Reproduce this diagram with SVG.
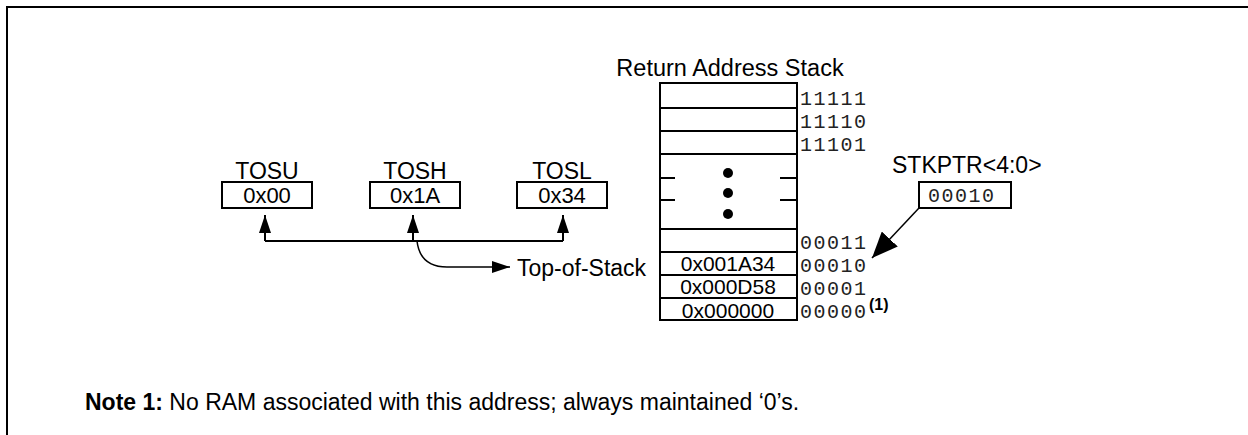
<svg xmlns="http://www.w3.org/2000/svg" width="1248" height="435" viewBox="0 0 1248 435">
<defs>
<style>
.sans{font-family:"Liberation Sans",Arial,sans-serif;fill:#000}
.lbl{font-size:23px}
.val{font-size:22px}
.sv{font-size:21px}
.mono{font-family:"Liberation Mono","Courier New",monospace;font-size:20px;letter-spacing:1.5px;fill:#222}
.box{fill:#fff;stroke:#000;stroke-width:2}
.ln{fill:none;stroke:#000;stroke-width:2}
.thin{fill:none;stroke:#000;stroke-width:1.5}
</style>
<marker id="ah" viewBox="0 0 18 12" refX="18" refY="6" markerWidth="18" markerHeight="12" markerUnits="userSpaceOnUse" orient="auto">
<path d="M0,0 L18,6 L0,12 Z" fill="#000"/>
</marker>
<marker id="ahBig" viewBox="0 0 26 22" refX="26" refY="11" markerWidth="26" markerHeight="22" markerUnits="userSpaceOnUse" orient="auto">
<path d="M0,0 L26,11 L0,22 Z" fill="#000"/>
</marker>
</defs>
<rect width="1248" height="435" fill="#fff"/>
<g id="frame">
<path d="M7,435 V7 H1248" class="ln"/>
</g>
<g id="tosu">
<text x="267" y="179" text-anchor="middle" class="sans lbl">TOSU</text>
<rect x="222" y="182" width="90" height="26" class="box"/>
<text x="267" y="203" text-anchor="middle" class="sans val">0x00</text>
</g>
<g id="tosh">
<text x="415" y="179" text-anchor="middle" class="sans lbl">TOSH</text>
<rect x="370" y="182" width="90" height="26" class="box"/>
<text x="415" y="203" text-anchor="middle" class="sans val">0x1A</text>
</g>
<g id="tosl">
<text x="562" y="179" text-anchor="middle" class="sans lbl">TOSL</text>
<rect x="517" y="182" width="90" height="26" class="box"/>
<text x="562" y="203" text-anchor="middle" class="sans val">0x34</text>
</g>
<g id="stack">
<text x="730" y="76" text-anchor="middle" class="sans" font-size="23.5">Return Address Stack</text>
<rect x="660" y="83" width="137" height="237" class="box"/>
<path d="M660,108 H797 M660,131 H797 M660,154 H797 M660,229 H797 M660,252 H797 M660,275 H797 M660,298 H797" class="ln"/>
<path d="M660,178 H675 M660,200 H675 M780,178 H797 M780,200 H797" class="ln"/>
<circle cx="728" cy="173" r="5"/>
<circle cx="728" cy="193" r="5"/>
<circle cx="728" cy="214" r="5"/>
<text x="728" y="270.5" text-anchor="middle" class="sans sv">0x001A34</text>
<text x="728" y="294" text-anchor="middle" class="sans sv">0x000D58</text>
<text x="728" y="317.5" text-anchor="middle" class="sans sv">0x000000</text>
<text x="800" y="105" class="mono">11111</text>
<text x="800" y="128" class="mono">11110</text>
<text x="800" y="151" class="mono">11101</text>
<text x="800" y="249" class="mono">00011</text>
<text x="800" y="272" class="mono">00010</text>
<text x="800" y="295" class="mono">00001</text>
<text x="800" y="318" class="mono">00000</text>
<text x="869" y="310" class="sans" font-size="16" font-weight="bold">(1)</text>
</g>
<g id="tos-label">
<text x="517" y="276" class="sans lbl">Top-of-Stack</text>
</g>
<g id="stkptr">
<text x="892" y="173" class="sans lbl">STKPTR&lt;4:0&gt;</text>
<rect x="919" y="182" width="92" height="26" class="box"/>
<text x="928" y="202" class="mono">00010</text>
</g>
<g id="connectors">
<path d="M265,241 H563" class="ln"/>
<path d="M265,241 V215" class="ln" marker-end="url(#ah)"/>
<path d="M413,241 V215" class="ln" marker-end="url(#ah)"/>
<path d="M563,241 V215" class="ln" marker-end="url(#ah)"/>
<path d="M417,241 Q420,267 447,267 H510" class="thin" marker-end="url(#ah)"/>
<path d="M919,208 L872,258" class="thin" marker-end="url(#ahBig)"/>
</g>
<g id="note">
<text x="85" y="410" class="sans" font-size="23"><tspan font-weight="bold">Note 1:</tspan> No RAM associated with this address; always maintained ‘0’s.</text>
</g>
</svg>
